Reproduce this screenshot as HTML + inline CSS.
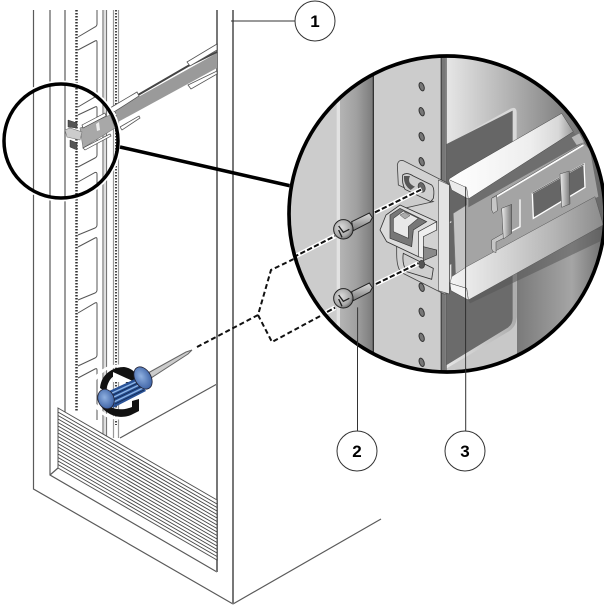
<!DOCTYPE html>
<html><head><meta charset="utf-8"><style>
html,body{margin:0;padding:0;background:#fff}
svg{display:block}
text{font-family:"Liberation Sans",sans-serif;font-weight:bold;font-size:17px;text-anchor:middle}
</style></head><body>
<svg width="604" height="606" viewBox="0 0 604 606" xmlns="http://www.w3.org/2000/svg">
<defs>
<linearGradient id="gPost" x1="0" x2="1" y1="0" y2="0"><stop offset="0" stop-color="#b4b4b4"/><stop offset=".5" stop-color="#a0a0a0"/><stop offset="1" stop-color="#7a7a7a"/></linearGradient>
<linearGradient id="gBack" x1="0" x2="1" y1="0" y2="0"><stop offset="0" stop-color="#e6e6e6"/><stop offset=".35" stop-color="#b5b5b5"/><stop offset=".7" stop-color="#808080"/><stop offset="1" stop-color="#5e5e5e"/></linearGradient>
<linearGradient id="gBackL" x1="0" x2="1" y1="0" y2="0"><stop offset="0" stop-color="#7a7a7a"/><stop offset=".55" stop-color="#a5a5a5"/><stop offset="1" stop-color="#5a5a5a"/></linearGradient>
<linearGradient id="gFl" gradientUnits="userSpaceOnUse" x1="480" x2="850" y1="0" y2="0"><stop offset="0" stop-color="#fff"/><stop offset=".65" stop-color="#eee"/><stop offset=".88" stop-color="#d8d8d8"/><stop offset="1" stop-color="#999"/></linearGradient>
<linearGradient id="gFl2" gradientUnits="userSpaceOnUse" x1="480" x2="930" y1="0" y2="0"><stop offset="0" stop-color="#f4f4f4"/><stop offset=".35" stop-color="#d6d6d6"/><stop offset=".7" stop-color="#b4b4b4"/><stop offset="1" stop-color="#8e8e8e"/></linearGradient>
<linearGradient id="gTab" x1="0" x2="1" y1="0" y2="0"><stop offset="0" stop-color="#eee"/><stop offset="1" stop-color="#777"/></linearGradient>
<linearGradient id="gShaft" x1="0" x2="0" y1="0" y2="1"><stop offset="0" stop-color="#ddd"/><stop offset="1" stop-color="#777"/></linearGradient>
<radialGradient id="gHead" cx=".4" cy=".4" r=".65"><stop offset="0" stop-color="#ddd"/><stop offset=".7" stop-color="#a8a8a8"/><stop offset="1" stop-color="#666"/></radialGradient>
<radialGradient id="gBlue" cx=".45" cy=".4" r=".7"><stop offset="0" stop-color="#8fb0e0"/><stop offset="1" stop-color="#30569c"/></radialGradient>
<clipPath id="big"><circle cx="471" cy="492" r="474"/></clipPath>
</defs>

<!-- rack lines -->
<g fill="none" stroke="#5a5a5a" stroke-width="1.200">
<path d="M33.500 10V489L233 604"/>
<path d="M50 10V475L217 572"/>
<path d="M65 10V416"/>
<path d="M103 10V434M106.500 10V436" stroke="#777"/>
<path d="M113.500 10V438M118.500 10V438" stroke="#999"/>
<path d="M233 604L381 519"/>
<path d="M120 438L217 384"/>
<path d="M50 475L58 468"/>
</g>
<path d="M76.500 10V412" stroke="#333" stroke-width="2.500" stroke-dasharray="1.500 1.500" fill="none"/>
<path d="M116 10V425" stroke="#444" stroke-width="2" stroke-dasharray="1.500 1.500" fill="none"/>
<path d="M217 10V572M233 10V604" stroke="#777" stroke-width="2" fill="none"/>
<path d="M104.500 10V436" stroke="#ddd" stroke-width="2" fill="none"/>
<!-- rack slots -->
<g fill="none" stroke="#555" stroke-width="1">
<path d="M97 10V24Q97 26 95 27L78 37"/>
<path d="M78 50L95 41Q97 40 97 42V94Q97 96 95 97L78 107"/>
<path d="M78 115L95 107Q97 106 97 108V155Q97 157 95 158L78 167"/>
<path d="M78 182L95 172.500Q97 172 97 174V225Q97 227 95 228L78 235"/>
<path d="M78 247L95 238Q97 237 97 239V290Q97 292 95 293L78 300"/>
<path d="M78 313L95 303Q97 302 97 304V355Q97 357 95 358L78 366"/>
<path d="M78 378L95 369Q97 368 97 370V420"/>
</g>

<!-- long rail -->
<polygon points="115,110 217,53 217,68 118,122" fill="#9a9a9a"/>
<path d="M138 95L188 66L217 52" stroke="#444" stroke-width="2" fill="none"/>
<path d="M110 108L137 92L139 96L114 112ZM187 62L217 44V50L190 66Z" fill="#fff" stroke="#555" stroke-width=".8"/>
<path d="M120 127L139 116L140 118L122 130ZM188 85L217 71V74L191 89Z" fill="#fff" stroke="#555" stroke-width=".8"/>

<!-- vent -->
<polygon points="58,408 217,500 217,560 58,468" fill="#fff" stroke="#555"/>
<g stroke="#444" stroke-width=".9">
<path d="M58 412L217 504M58 415.500L217 507.500M58 419L217 511M58 422.500L217 514.500M58 426L217 518M58 429.500L217 521.500M58 433L217 525M58 436.500L217 528.500M58 440L217 532M58 443.500L217 535.500M58 447L217 539M58 450.500L217 542.500M58 454L217 546M58 457.500L217 549.500M58 461L217 553M58 464.500L217 556.500"/>
</g>

<!-- screwdriver -->
<g>
<circle cx="118" cy="392" r="26" fill="none" stroke="#fff" stroke-width="3"/>
<path d="M100 388C101 375 112 367 124 367C131 368 135 372 138 376L129 385L117 375C111 376 107 383 106 392Z" fill="#111"/>
<path d="M100 405C108 417 122 419 131 415L139 411V399L132 401V407C122 411 111 410 104 402Z" fill="#111"/>
<polygon points="113,372 135,382 113,382" fill="#fff"/>
<polygon points="148,373 186,352 192,350 188,354 151,378" fill="#ccc" stroke="#666" stroke-width="1"/>
<polygon points="107,392 137,378 146,391 113,408" fill="#2a5398"/>
<path d="M110 394L138 381M112 398L141 384M114 402L143 388" stroke="#8fb6e6" stroke-width="1.300"/>
<path d="M111 396L140 382M113 400L142 386M115 404L144 390" stroke="#13294f" stroke-width=".8"/>
<ellipse cx="143" cy="378" rx="8" ry="12" transform="rotate(-30 143 378)" fill="url(#gBlue)" stroke="#223" stroke-width=".8"/>
<ellipse cx="106" cy="399" rx="8" ry="10" transform="rotate(-20 106 399)" fill="url(#gBlue)" stroke="#223" stroke-width=".8"/>
</g>

<!-- outer dashes -->
<g fill="none" stroke="#111" stroke-width="2" stroke-dasharray="5 3">
<path d="M197 347L258 315L271 270L300 256"/>
<path d="M258 315L272 342L335 308"/>
</g>

<!-- small circle -->
<circle cx="61" cy="141" r="59" fill="none" stroke="#fff" stroke-width="3"/>
<circle cx="61" cy="141" r="57" fill="none" stroke="#000" stroke-width="3.500"/>
<!-- rail end in small circle -->
<polygon points="80,128 110,115 115,128 83,148" fill="#a8a8a8" stroke="#777" stroke-width=".6"/>
<path d="M82 125L105 113L106 116L83 128ZM83 148L110 134L111 136L85 150Z" fill="#fff" stroke="#444" stroke-width=".7"/>
<polygon points="68,120 77,123 77,128 68,127" fill="#555" stroke="#333" stroke-width=".5"/>
<polygon points="70,140 77,143 77,150 70,147" fill="#555" stroke="#333" stroke-width=".5"/>
<polygon points="65,130 70,128 82,132 80,140 67,137" fill="#ccc" stroke="#777" stroke-width=".6"/>
<path d="M96 124L99 122L100 130L97 131Z" fill="#eee"/>

<!-- thick leader -->
<path d="M120 147L291 186" stroke="#000" stroke-width="3.500"/>
<path d="M231 21H295" stroke="#333" stroke-width="1"/>

<!-- big circle detail -->
<g transform="translate(290 50) scale(.33333)">
<circle cx="471" cy="492" r="480" fill="#fff"/>
<g clip-path="url(#big)">
<rect x="-20" y="0" width="1000" height="1000" fill="#cccccc"/>
<rect x="150" y="0" width="100" height="1000" fill="url(#gPost)"/>
<rect x="140" y="0" width="10" height="1000" fill="#e2e2e2"/>
<rect x="470" y="0" width="510" height="1000" fill="url(#gBack)"/>
<!-- windows -->
<path d="M470 282L662 176Q680 168 680 188V420L470 520Z" fill="#d8d8d8"/>
<path d="M470 282L668 182V420L470 520Z" fill="#666"/>
<rect x="680" y="540" width="300" height="460" fill="url(#gBackL)"/>
<path d="M470 700L680 600V800Q680 830 655 845L470 955V1000H700V600Z" fill="#c8c8c8"/>
<path d="M470 700L668 620V805Q668 825 650 835L470 945Z" fill="#6b6b6b"/>
<rect x="681" y="600" width="300" height="400" fill="url(#gBackL)"/>
<!-- post edges -->
<path d="M250 0V1000" stroke="#333" stroke-width="4"/>
<path d="M454 0V1000" stroke="#333" stroke-width="4"/>
<path d="M460 0V1000" stroke="#777" stroke-width="10"/>
<path d="M468 0V1000" stroke="#333" stroke-width="3"/>
<!-- holes -->
<g fill="#777" stroke="#333" stroke-width="3">
<ellipse cx="395" cy="110" rx="7" ry="13" transform="rotate(-20 395 110)"/>
<ellipse cx="395" cy="185" rx="7" ry="13" transform="rotate(-20 395 185)"/>
<ellipse cx="395" cy="260" rx="7" ry="13" transform="rotate(-20 395 260)"/>
<ellipse cx="395" cy="335" rx="7" ry="13" transform="rotate(-20 395 335)"/>
<ellipse cx="395" cy="712" rx="7" ry="13" transform="rotate(-20 395 712)"/>
<ellipse cx="395" cy="787" rx="7" ry="13" transform="rotate(-20 395 787)"/>
<ellipse cx="395" cy="862" rx="7" ry="13" transform="rotate(-20 395 862)"/>
<ellipse cx="395" cy="937" rx="7" ry="13" transform="rotate(-20 395 937)"/>
</g>
<!-- behind bracket rail -->
<polygon points="484,425 530,445 530,665 484,690" fill="#666"/>
<polygon points="490,490 530,465 530,660 497,680" fill="#c4c4c4" stroke="#777" stroke-width="1.500"/>
<!-- web -->
<polygon points="530,445 850,245 900,300 925,440 530,655" fill="#a4a4a4"/>
<polygon points="535,447 850,245 882,277 535,472" fill="#6e6e6e"/>
<polygon points="845,262 868,250 882,277 860,285" fill="#b8b8b8"/>
<!-- top flange -->
<polygon points="475,388 510,366 815,190 850,245 535,447" fill="url(#gFl)" stroke="#444" stroke-width="1.500"/>
<polygon points="475,388 530,413 535,447 485,420" fill="#ececec" stroke="#444" stroke-width="1.500"/>
<!-- lower flange -->
<polygon points="485,680 530,650 915,440 940,525 535,750 530,715 480,700" fill="url(#gFl2)" stroke="#555" stroke-width="1.500"/>
<polygon points="480,700 530,715 535,750 483,722" fill="#f4f4f4" stroke="#444" stroke-width="1.500"/>
<polygon points="535,750 940,525 960,560 540,760" fill="#555" opacity=".55"/>
<!-- slots -->
<path d="M606 448L880 285" stroke="#fff" stroke-width="5"/>
<path d="M606 444L880 281" stroke="#555" stroke-width="1.500"/>
<polygon points="727,430 882,342 885,412 730,505" fill="#666" stroke="#fff" stroke-width="4"/>
<path d="M727 430L882 342" stroke="#444" stroke-width="2"/>
<path d="M690 448V530L610 572" stroke="#fff" stroke-width="4" fill="none"/>
<polygon points="605,445 620,437 622,482 610,490 605,480" fill="#c6c6c6" stroke="#444" stroke-width="1.500"/>
<polygon points="605,570 640,550 640,565 618,576 618,608 608,604 605,596" fill="#c6c6c6" stroke="#444" stroke-width="1.500"/>
<polygon points="635,475 665,463 665,550 640,567" fill="url(#gTab)" stroke="#444" stroke-width="1.500"/>
<polygon points="810,372 838,363 840,462 815,472" fill="url(#gTab)" stroke="#444" stroke-width="1.500"/>
<!-- bracket -->
<path d="M322 345Q325 328 340 332L470 398L478 405V730L462 732L335 668Q320 655 320 610V480L430 455L325 405Z" fill="#d2d2d2" stroke="#444" stroke-width="2.500"/>
<path d="M445 390L478 405V732L445 722Z" fill="#e4e4e4" stroke="#555" stroke-width="2"/>
<path d="M478 520L490 515V640L478 645Z" fill="#666"/>
<path d="M338 375Q350 365 370 378L425 405Q435 415 430 445L422 455L345 418Q335 400 338 375Z" fill="#cfcfcf" stroke="#333" stroke-width="2.500"/>
<path d="M342 378Q340 405 362 420L375 410Q350 400 360 378Z" fill="#555"/>
<ellipse cx="395" cy="412" rx="10" ry="15" transform="rotate(-20 395 412)" fill="#666" stroke="#333" stroke-width="2"/>
<path d="M340 610Q335 640 350 665L425 688L430 655L400 640Z" fill="#cfcfcf" stroke="#333" stroke-width="2.500"/>
<ellipse cx="395" cy="643" rx="9" ry="12" fill="#555" stroke="#333" stroke-width="2"/>
<!-- center clip -->
<polygon points="270,540 288,495 330,465 440,515 440,540 400,545 385,620 290,575" fill="#dcdcdc" stroke="#333" stroke-width="2.500"/>
<polygon points="300,495 330,475 410,515 370,540 365,590 300,565" fill="#777" stroke="#333" stroke-width="2"/>
<polygon points="310,505 340,483 385,505 355,530 355,565 310,545" fill="#e8e8e8" stroke="#444" stroke-width="2"/>
<polygon points="330,495 345,487 360,497 345,507" fill="#aaa" stroke="#555" stroke-width="1.500"/>
<path d="M385 545L440 515V540L400 560V625L385 620Z" fill="#eee" stroke="#333" stroke-width="2"/>
<polygon points="400,590 440,600 440,615 400,632" fill="#8a8a8a" stroke="#333" stroke-width="2"/>
<!-- screws -->
<g stroke="#222" stroke-width="3">
<polygon points="185,515 238,489 247,503 240,516 190,542" fill="url(#gShaft)"/>
<circle cx="160" cy="538" r="29" fill="url(#gHead)"/>
<polygon points="185,725 238,699 247,713 240,726 190,752" fill="url(#gShaft)"/>
<circle cx="160" cy="745" r="29" fill="url(#gHead)"/>
</g>
<path d="M146 528L160 547L178 538M146 540L156 562" stroke="#222" stroke-width="4" fill="none"/>
<path d="M146 735L160 754L178 745M146 747L156 769" stroke="#222" stroke-width="4" fill="none"/>
<!-- dashes -->
<g fill="none">
<path d="M-10 632L135 558M255 487L395 418M-10 852L135 773M258 702L385 640" stroke="#fff" stroke-width="14"/>
<path d="M-10 632L135 558M255 487L395 418M-10 852L135 773M258 702L385 640" stroke="#111" stroke-width="6" stroke-dasharray="16 7"/>
</g>
<!-- leader lines -->
<path d="M527 410V1000M203 772V1000" stroke="#222" stroke-width="2.500" fill="none"/>
</g>
<circle cx="471" cy="492" r="474" fill="none" stroke="#000" stroke-width="11"/>
</g>

<!-- callouts -->
<path d="M357.500 340V431M465.700 368V431" stroke="#333" stroke-width="1"/>
<g fill="#fff" stroke="#333" stroke-width="1">
<circle cx="315" cy="21" r="20"/>
<circle cx="357" cy="451" r="20"/>
<circle cx="465" cy="451" r="20"/>
</g>
<text x="315" y="27">1</text>
<text x="357" y="457">2</text>
<text x="465" y="457">3</text>
</svg>
</body></html>
